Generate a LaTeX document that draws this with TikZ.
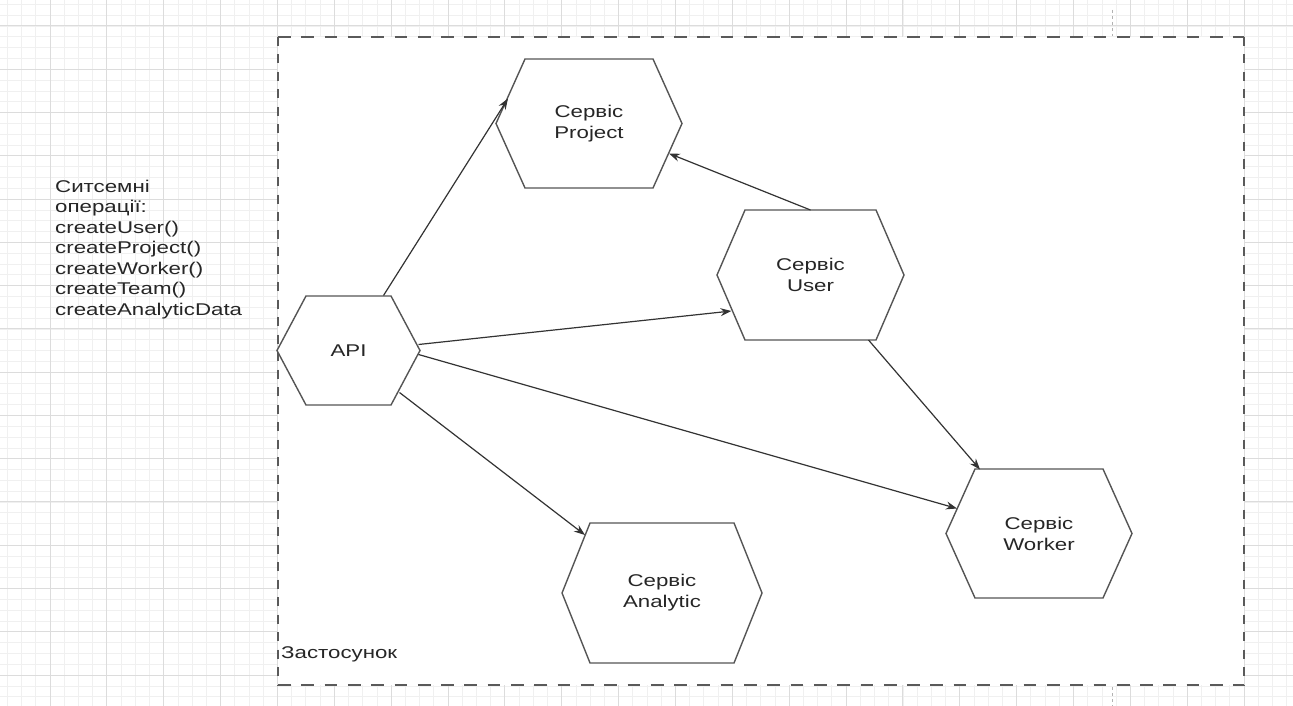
\documentclass[tikz,border=0pt]{standalone}
\usepackage{fontspec}
\setmainfont[FakeStretch=1.31]{Liberation Sans}
\usetikzlibrary{calc,arrows.meta}
\definecolor{gridmajor}{HTML}{DCDCDC}
\definecolor{gridminor}{HTML}{F0F0F0}
\definecolor{hexc}{HTML}{555555}
\definecolor{arrc}{HTML}{333333}
\definecolor{txtc}{HTML}{262626}
\definecolor{framec}{HTML}{5A5A5A}
\tikzset{
  gridmin/.style={draw=gridminor, line width=0.8pt},
  gridmaj/.style={draw=gridmajor, line width=1pt},
  hexline/.style={draw=hexc, fill=white, line width=1.4pt, line join=miter},
  hextext/.style={align=center, inner sep=0pt, text=txtc, font=\fontsize{17}{21}\selectfont},
  plaintext/.style={inner sep=0pt, text=txtc, font=\fontsize{17}{20.5}\selectfont},
  arr/.style={draw=arrc, line width=1.2pt, -{Stealth[length=11pt,width=8pt]}},
  frameh/.style={draw=framec, line width=2pt, dash pattern=on 12.7pt off 10.6pt},
  framev/.style={draw=framec, line width=2pt, dash pattern=on 9pt off 8.5pt},
  pagebreak/.style={draw=black!30, line width=0.8pt, dash pattern=on 3pt off 3pt}
}
\newcommand\hexagonnode[7]{%
  \draw[hexline] ({#2-#4},{#3}) -- ({#2-#4+#6},{#3-#5}) -- ({#2+#4-#6},{#3-#5}) -- ({#2+#4},{#3}) -- ({#2+#4-#6},{#3+#5}) -- ({#2-#4+#6},{#3+#5}) -- cycle;
  \node[hextext] (#1) at ({#2},{#3}) {#7};}
\begin{document}
\begin{tikzpicture}[x=1pt,y=-1pt]
\useasboundingbox (0,0) rectangle (1293,706);
\fill[white] (0,0) rectangle (1293,706);
% background grid
\begin{scope}
\clip (0,0) rectangle (1293,706);
\foreach \k in {-4,...,88} \draw[gridmin] ({50+14.215*\k},0) -- ({50+14.215*\k},706);
\foreach \k in {-3,...,63} \draw[gridmin] (0,{26+10.818*\k}) -- (1293,{26+10.818*\k});
\foreach \k in {-1,...,22} \draw[gridmaj] ({50+56.86*\k},0) -- ({50+56.86*\k},706);
\foreach \k in {-1,...,16} \draw[gridmaj] (0,{26+43.27*\k}) -- (1293,{26+43.27*\k});
\end{scope}
% page break marks
\draw[pagebreak] (1112,10) -- (1112,36);
\draw[pagebreak] (1112,687) -- (1112,706);
% container
\fill[white] (278,37) rectangle (1244,685);
\draw[frameh] (278,37) -- (1244,37);
\draw[frameh] (278,685) -- (1244,685);
\draw[framev] (278,37) -- (278,685);
\draw[framev] (1244,37) -- (1244,685);
\node[plaintext, anchor=base west] (app) at (281,658) {Застосунок};
% left text
\node[plaintext, anchor=north west, align=left] (ops) at (55,179.5) {Ситсемні\\операції:\\createUser()\\createProject()\\createWorker()\\createTeam()\\createAnalyticData};
% hexagons
\hexagonnode{api}{348.5}{350.5}{71.5}{54.5}{29}{API}
\hexagonnode{proj}{589}{123.5}{93}{64.5}{29}{Сервіс\\Project}
\hexagonnode{user}{810.5}{275}{93.5}{65}{28}{Сервіс\\User}
\hexagonnode{work}{1039}{533.5}{93}{64.5}{29}{Сервіс\\Worker}
\hexagonnode{anal}{662}{593}{100}{70}{28}{Сервіс\\Analytic}
% connectors
\draw[arr] ($(api)+(35,-55)$) -- ($(proj)+(-81,-25)$);
\draw[arr] ($(user)+(0,-65)$) -- ($(proj)+(80,30)$);
\draw[arr] ($(api)+(70,-6)$) -- ($(user)+(-79,36)$);
\draw[arr] ($(user)+(58,65)$) -- ($(work)+(-59,-64)$);
\draw[arr] ($(api)+(70,4)$) -- ($(work)+(-82,-25)$);
\draw[arr] ($(api)+(51,42)$) -- ($(anal)+(-77,-58)$);
\end{tikzpicture}
\end{document}
